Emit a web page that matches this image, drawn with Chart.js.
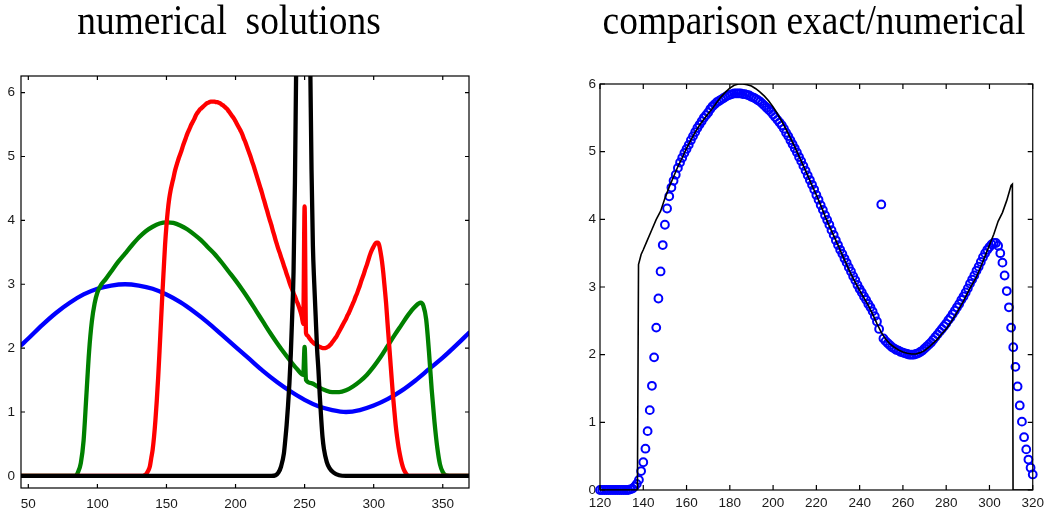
<!DOCTYPE html>
<html>
<head>
<meta charset="utf-8">
<script src="https://cdn.jsdelivr.net/npm/chart.js@4.4.1/dist/chart.umd.min.js"></script>
<style>
  html, body { margin: 0; padding: 0; background: #fff; }
  #wrap { position: relative; width: 1049px; height: 513px; overflow: hidden; }
  #wrap canvas { position: absolute; left: 0; top: 0; }
</style>
</head>
<body>
<div id="wrap">
  <canvas id="numericalPanel" width="1049" height="513"></canvas>
  <canvas id="comparePanel" width="1049" height="513"></canvas>
</div>
<script>
// ---- tick labels ----
const leftXTicks = [50, 100, 150, 200, 250, 300, 350];
const leftYTicks = [0, 1, 2, 3, 4, 5, 6];
const rightXTicks = [120, 140, 160, 180, 200, 220, 240, 260, 280, 300, 320];
const rightYTicks = [0, 1, 2, 3, 4, 5, 6];

// ---- solution at the earliest time (blue) ----
const blueX = [45, 50, 60, 70, 80, 90, 100, 110, 120, 130, 140, 150, 160, 170, 180, 190, 200, 210, 220, 230,
               240, 250, 260, 270, 280, 290, 300, 310, 320, 330, 340, 350, 360, 369];
const blueY = [2.05, 2.15, 2.36, 2.55, 2.71, 2.84, 2.93, 2.98, 3.0, 2.98, 2.93, 2.84, 2.72, 2.57, 2.40, 2.21, 2.02, 1.83, 1.64, 1.47,
               1.32, 1.19, 1.09, 1.03, 1.0, 1.03, 1.10, 1.20, 1.33, 1.49, 1.67, 1.85, 2.05, 2.24];

// ---- second time (green) ----
const greenX = [45, 84, 86, 88, 90, 92, 94, 96, 98, 100, 103, 106, 110, 115, 120, 125, 130, 135, 140, 145,
                150, 155, 160, 165, 170, 175, 180, 185, 190, 195, 200, 205, 210, 215, 220, 225, 230, 235, 240, 245,
                249, 250, 251, 255, 260, 265, 270, 275, 280, 285, 290, 295, 300, 305, 310, 315, 320, 325, 330, 334,
                336, 338, 340, 342, 344, 346, 348, 350, 352, 355, 369];
const greenY = [0, 0, 0.06, 0.2, 0.55, 1.25, 1.95, 2.42, 2.7, 2.87, 3.0, 3.08, 3.2, 3.35, 3.48, 3.61, 3.73, 3.83, 3.9, 3.95,
                3.97, 3.96, 3.92, 3.86, 3.78, 3.69, 3.58, 3.47, 3.34, 3.2, 3.06, 2.91, 2.75, 2.58, 2.41, 2.24, 2.08, 1.93, 1.79, 1.66,
                1.58, 2.02, 1.5, 1.45, 1.39, 1.34, 1.31, 1.31, 1.34, 1.40, 1.48, 1.58, 1.71, 1.86, 2.03, 2.2, 2.36, 2.52, 2.65, 2.71,
                2.66, 2.45, 1.95, 1.35, 0.85, 0.45, 0.18, 0.06, 0.01, 0, 0];

// ---- numerical solution on the grid 120..320 (red, and blue circles) ----
const gridStart = 120;
const numerical = [
  0, 0, 0, 0, 0, 0, 0, 0, 0, 0,
  0, 0, 0, 0, 0.01, 0.02, 0.05, 0.09, 0.15, 0.28,
  0.41, 0.61, 0.87, 1.18, 1.54, 1.96, 2.40, 2.83, 3.23, 3.62,
  3.92, 4.16, 4.34, 4.47, 4.57, 4.66, 4.76, 4.84, 4.91, 4.98,
  5.04, 5.10, 5.17, 5.23, 5.29, 5.35, 5.40, 5.45, 5.50, 5.54,
  5.58, 5.63, 5.67, 5.70, 5.73, 5.75, 5.77, 5.79, 5.81, 5.83,
  5.84, 5.85, 5.86, 5.86, 5.86, 5.86, 5.85, 5.85, 5.84, 5.83,
  5.81, 5.80, 5.78, 5.76, 5.74, 5.71, 5.68, 5.65, 5.62, 5.59,
  5.55, 5.51, 5.47, 5.43, 5.39, 5.34, 5.28, 5.23, 5.17, 5.11,
  5.05, 4.99, 4.92, 4.86, 4.79, 4.72, 4.65, 4.58, 4.51, 4.44,
  4.36, 4.29, 4.21, 4.14, 4.06, 3.99, 3.92, 3.84, 3.77, 3.69,
  3.62, 3.55, 3.49, 3.42, 3.36, 3.29, 3.23, 3.16, 3.10, 3.03,
  2.97, 2.92, 2.86, 2.81, 2.75, 2.70, 2.64, 2.57, 2.49, 2.38,
  4.22, 2.24, 2.20, 2.17, 2.14, 2.11, 2.09, 2.07, 2.06, 2.04,
  2.03, 2.02, 2.01, 2.00, 2.00, 2.00, 2.01, 2.02, 2.04, 2.06,
  2.09, 2.12, 2.15, 2.18, 2.22, 2.26, 2.30, 2.34, 2.38, 2.42,
  2.46, 2.51, 2.55, 2.60, 2.65, 2.70, 2.75, 2.81, 2.86, 2.92,
  2.98, 3.05, 3.11, 3.17, 3.24, 3.30, 3.37, 3.44, 3.50, 3.55,
  3.59, 3.63, 3.65, 3.65, 3.61, 3.50, 3.36, 3.17, 2.94, 2.70,
  2.40, 2.11, 1.82, 1.53, 1.25, 1.01, 0.78, 0.60, 0.45, 0.33,
  0.23
];
// red curve continues outside the comparison window
const redLeadX = [45];
const redLeadY = [0];
const redTailX = [321, 322, 323, 324, 325, 369];
const redTailY = [0.15, 0.09, 0.05, 0.02, 0, 0];

// ---- latest time (black), peak leaves the window ----
const blackX = [45, 226, 229, 231, 233, 235, 236, 237, 238, 239, 240, 241, 242, 243, 244, 246, 249, 252, 254, 255,
                256, 257, 258, 259, 260, 261, 262, 263, 264, 266, 268, 271, 275, 280, 369];
const blackY = [0, 0, 0.01, 0.05, 0.15, 0.35, 0.56, 0.8, 1.1, 1.45, 1.9, 2.5, 3.2, 4.6, 6.6, 9.5, 11, 9.5, 6.6, 4.8,
                3.6, 3.0, 2.5, 2.0, 1.66, 1.25, 0.9, 0.6, 0.42, 0.22, 0.12, 0.05, 0.01, 0, 0];

// ---- exact solution (thin black) ----
const exactX = [120, 137.3, 137.8, 139, 140, 141.6, 144, 146, 148, 150,
                152, 154, 156, 158, 160, 162, 164, 166, 168, 170,
                172, 174, 176, 178, 180, 182, 184, 186, 188, 190,
                192, 194, 196, 198, 200, 202, 204, 206, 208, 210,
                212, 214, 216, 218, 220, 222, 224, 226, 228, 230,
                232, 234, 236, 238, 240, 242, 244, 246, 248, 250,
                252, 254, 256, 258, 260, 262, 264, 266, 268, 270,
                272, 274, 276, 278, 280, 282, 284, 286, 288, 290,
                292, 294, 296, 298, 300, 302, 304, 306, 308, 310,
                310.6, 310.9, 320];
const exactY = [0, 0, 3.33, 3.48, 3.55, 3.67, 3.85, 4.0, 4.12, 4.31,
                4.48, 4.63, 4.78, 4.91, 5.05, 5.17, 5.29, 5.39, 5.48, 5.56,
                5.64, 5.73, 5.81, 5.88, 5.94, 5.98, 6.0, 6.0, 5.99, 5.97,
                5.93, 5.88, 5.82, 5.75, 5.66, 5.56, 5.45, 5.33, 5.20, 5.07,
                4.93, 4.79, 4.65, 4.50, 4.36, 4.21, 4.05, 3.90, 3.76, 3.62,
                3.47, 3.33, 3.19, 3.07, 2.95, 2.84, 2.73, 2.60, 2.46, 2.33,
                2.23, 2.16, 2.11, 2.07, 2.04, 2.02, 2.01, 2.01, 2.03, 2.06,
                2.11, 2.17, 2.23, 2.31, 2.38, 2.47, 2.57, 2.68, 2.79, 2.92,
                3.04, 3.15, 3.30, 3.46, 3.62, 3.78, 3.97, 4.10, 4.28, 4.50,
                4.52, 0, 0];

// ---- helpers ----
const pts = (xs, ys) => xs.map((x, i) => ({ x, y: ys[i] }));
const numericalPts = numerical.map((v, i) => ({ x: gridStart + i, y: v }));
const redPts = pts(redLeadX, redLeadY).concat(numericalPts, pts(redTailX, redTailY));

// box frame, inward tick marks and panel title
const panelFrame = {
  id: 'panelFrame',
  afterDraw(chart, args, o) {
    const { ctx, chartArea: a } = chart;
    const xs = chart.scales.x, ys = chart.scales.y;
    ctx.save();
    ctx.strokeStyle = '#000';
    ctx.lineWidth = 1.2;
    ctx.beginPath();
    xs.ticks.forEach(t => {
      const p = xs.getPixelForValue(t.value);
      ctx.moveTo(p, a.bottom); ctx.lineTo(p, a.bottom - o.tickLen);
      ctx.moveTo(p, a.top); ctx.lineTo(p, a.top + o.tickLen);
    });
    ys.ticks.forEach(t => {
      const p = ys.getPixelForValue(t.value);
      ctx.moveTo(a.left, p); ctx.lineTo(a.left + o.tickLen, p);
      ctx.moveTo(a.right, p); ctx.lineTo(a.right - o.tickLen, p);
    });
    ctx.stroke();
    ctx.strokeRect(a.left, a.top, a.right - a.left, a.bottom - a.top);
    // title, set in a tall narrow serif
    ctx.fillStyle = '#000';
    ctx.font = o.titleFont;
    ctx.textAlign = 'center';
    ctx.textBaseline = 'alphabetic';
    ctx.translate(o.titleX, o.titleY);
    ctx.scale(o.titleSqueeze, 1);
    ctx.fillText(o.title, 0, 0);
    ctx.restore();
  }
};

const tickFont = size => ({ family: "'Liberation Sans', Arial, sans-serif", size });
const fixedTicks = list => scale => { scale.ticks = list.map(v => ({ value: v })); };
const titleFont = "43px 'Liberation Serif', 'Times New Roman', serif";
const noGrid = { display: false, drawTicks: false, tickLength: 0 };

// ---- left panel: numerical solutions ----
new Chart(document.getElementById('numericalPanel'), {
  type: 'line',
  data: {
    datasets: [
      { label: 't4', data: pts(blackX, blackY), borderColor: '#000000', order: 0 },
      { label: 't3', data: redPts, borderColor: '#ff0000', order: 1 },
      { label: 't2', data: pts(greenX, greenY), borderColor: '#008000', order: 2 },
      { label: 't1', data: pts(blueX, blueY), borderColor: '#0000ff', order: 3 }
    ]
  },
  options: {
    responsive: false, animation: false, devicePixelRatio: 1,
    elements: {
      point: { radius: 0 },
      line: { borderWidth: 4.3, tension: 0, cubicInterpolationMode: 'monotone', fill: false, borderJoinStyle: 'round', borderCapStyle: 'round' }
    },
    layout: { padding: { left: 0, right: 580, top: 76, bottom: 0 } },
    plugins: {
      legend: { display: false }, tooltip: { enabled: false },
      panelFrame: { tickLen: 4, title: 'numerical  solutions', titleX: 229, titleY: 34,
                    titleFont, titleSqueeze: 0.87 }
    },
    scales: {
      x: {
        type: 'linear', min: 44.7, max: 369,
        afterFit: s => { s.height = 25; },
        afterBuildTicks: fixedTicks(leftXTicks),
        grid: noGrid, border: { display: false },
        ticks: { font: tickFont(13.5), color: '#1a1a1a', padding: 8, maxRotation: 0, autoSkip: false }
      },
      y: {
        type: 'linear', min: -0.19, max: 6.26,
        afterFit: s => { s.width = 21; },
        afterBuildTicks: fixedTicks(leftYTicks),
        grid: noGrid, border: { display: false },
        ticks: { font: tickFont(13.5), color: '#1a1a1a', padding: 6 }
      }
    }
  },
  plugins: [panelFrame]
});

// ---- right panel: exact vs numerical ----
new Chart(document.getElementById('comparePanel'), {
  type: 'line',
  data: {
    datasets: [
      { label: 'exact', data: pts(exactX, exactY), borderColor: '#000000', borderWidth: 1.6,
        pointRadius: 0, tension: 0, order: 0 },
      { label: 'numerical', data: numericalPts, showLine: false, borderColor: '#0000ff',
        backgroundColor: 'rgba(0,0,0,0)', pointStyle: 'circle', pointRadius: 3.9,
        pointBorderWidth: 2, pointBorderColor: '#0000ff', pointBackgroundColor: 'rgba(0,0,0,0)',
        clip: false, order: 1 }
    ]
  },
  options: {
    responsive: false, animation: false, devicePixelRatio: 1,
    layout: { padding: { left: 570, right: 12, top: 84, bottom: 0 } },
    plugins: {
      legend: { display: false }, tooltip: { enabled: false },
      panelFrame: { tickLen: 5, title: 'comparison exact/numerical', titleX: 814, titleY: 34,
                    titleFont, titleSqueeze: 0.87 }
    },
    scales: {
      x: {
        type: 'linear', min: 120, max: 320,
        afterFit: s => { s.height = 23; },
        afterBuildTicks: fixedTicks(rightXTicks),
        grid: noGrid, border: { display: false },
        ticks: { font: tickFont(13.5), color: '#1a1a1a', padding: 5, maxRotation: 0, autoSkip: false }
      },
      y: {
        type: 'linear', min: 0, max: 6,
        afterFit: s => { s.width = 30; },
        afterBuildTicks: fixedTicks(rightYTicks),
        grid: noGrid, border: { display: false },
        ticks: { font: tickFont(13.5), color: '#1a1a1a', padding: 4 }
      }
    }
  },
  plugins: [panelFrame]
});
</script>
</body>
</html>
